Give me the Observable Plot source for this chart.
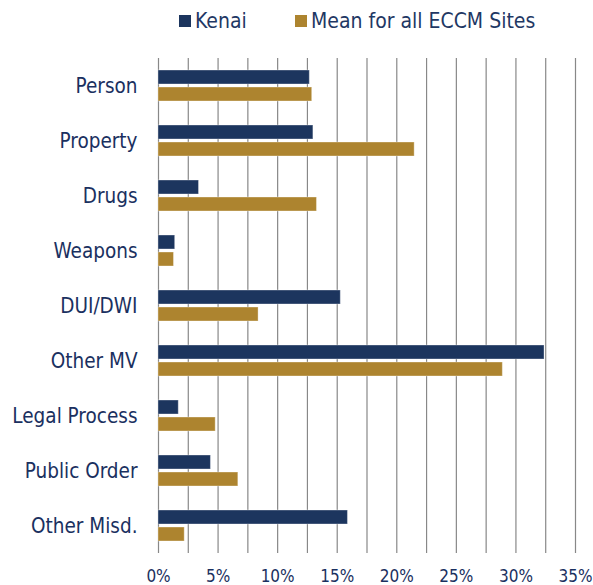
<!DOCTYPE html>
<html>
<head>
<meta charset="utf-8">
<script src="https://cdn.jsdelivr.net/npm/d3@7"></script>
<script src="https://cdn.jsdelivr.net/npm/@observablehq/plot@0.6"></script>
<style>
  body { margin: 0; background: #fff; }
  #wrap { position: relative; width: 593px; height: 585px; font-family: "DejaVu Sans Condensed", "DejaVu Sans", sans-serif; font-stretch: condensed; color: #1f3864; }
  #legend { position: absolute; top: 9px; left: 0; width: 593px; font-size: 21px; }
  .item { position: absolute; display: flex; align-items: center; white-space: nowrap; }
  .sw { width: 12px; height: 12px; margin-right: 4px; display: inline-block; }
  #chart { position: absolute; top: 0; left: 0; }
</style>
</head>
<body>
<div id="wrap">
  <div id="chart"></div>
  <div id="legend"></div>
</div>
<script>
const categories = ["Person", "Property", "Drugs", "Weapons", "DUI/DWI", "Other MV", "Legal Process", "Public Order", "Other Misd."];
const seriesNames = ["Kenai", "Mean for all ECCM Sites"];
const kenai = [12.7, 13.0, 3.4, 1.4, 15.3, 32.4, 1.7, 4.4, 15.9];
const meanAll = [12.9, 21.5, 13.3, 1.3, 8.4, 28.9, 4.8, 6.7, 2.2];
const colors = ["#1c355e", "#ad842f"];
const xTicks = [0, 5, 10, 15, 20, 25, 30, 35];
const gridTicks = d3.range(0, 35.01, 2.5);

const data = [];
categories.forEach((c, i) => {
  data.push({category: c, series: seriesNames[0], value: kenai[i]});
  data.push({category: c, series: seriesNames[1], value: meanAll[i]});
});

const font = '"DejaVu Sans Condensed", "DejaVu Sans", sans-serif';

const chart = Plot.plot({
  width: 593,
  height: 585,
  marginTop: 57,
  marginBottom: 31,
  marginLeft: 158,
  marginRight: 18,
  style: {fontFamily: font, color: "#1f3864", background: "#fff", fontStretch: "condensed"},
  x: {domain: [0, 35], axis: null},
  y: {domain: seriesNames, axis: null, paddingInner: 0.2, paddingOuter: 0.64},
  fy: {domain: categories, padding: 0, label: null, axis: null},
  color: {domain: seriesNames, range: colors},
  marks: [
    Plot.ruleX(gridTicks, {x: d => d, stroke: "#888", strokeWidth: 1.2, strokeOpacity: 1}),
    Plot.barX(data, {fy: "category", y: "series", x: "value", fill: "series", stroke: "#ffffff", strokeOpacity: 0.35, strokeWidth: 1}),
    Plot.axisFy({domain: categories, anchor: "left", tickSize: 0, tickPadding: 21, fontSize: 20.5, label: null, fill: "#1a3060"}),
    Plot.axisX({ticks: xTicks, anchor: "bottom", tickSize: 0, tickPadding: 16, fontSize: 17, tickFormat: d => d + "%", label: null, fill: "#1a3060", facetAnchor: "bottom"})
  ]
});
document.getElementById("chart").appendChild(chart);

const legend = document.getElementById("legend");
const positions = [179, 295];
seriesNames.forEach((s, i) => {
  const it = document.createElement("div");
  it.className = "item";
  it.style.left = positions[i] + "px";
  const sw = document.createElement("span");
  sw.className = "sw";
  sw.style.background = colors[i];
  it.appendChild(sw);
  it.appendChild(document.createTextNode(s));
  legend.appendChild(it);
});
</script>
</body>
</html>
